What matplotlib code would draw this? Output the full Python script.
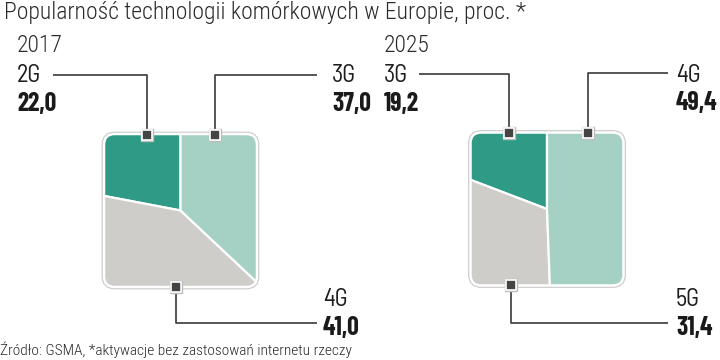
import numpy as np
import matplotlib
matplotlib.use('Agg')
import matplotlib.pyplot as plt
from matplotlib.patches import FancyBboxPatch

plt.rcParams['font.family'] = ['Roboto Condensed', 'Barlow Condensed', 'DejaVu Sans']
LABEL_FONT = ['Barlow Semi Condensed', 'Barlow Condensed', 'DejaVu Sans']
NUM_FONT = ['Barlow Condensed', 'DejaVu Sans']

# dane (kolejnosc: przeciwnie do ruchu wskazowek zegara od godziny 12)
years = ['2017', '2025']
techs_2017 = ['2G', '4G', '3G']
values_2017 = [22.0, 41.0, 37.0]
techs_2025 = ['3G', '5G', '4G']
values_2025 = [19.2, 31.4, 49.4]

title = 'Popularność technologii komórkowych w Europie, proc. *'
source = 'Źródło: GSMA, *aktywacje bez zastosowań internetu rzeczy'

colors = ['#2f9b86', '#cfcdca', '#a4d1c4']
W, H = 720, 360
fig = plt.figure(figsize=(7.2, 3.6), dpi=100)


def fmt(v):
    return ('%.1f' % v).replace('.', ',')


def square_pie(cx, cy, half, values):
    lim = 1.12
    size = 2 * half * lim
    ax = fig.add_axes([(cx - size / 2) / W, 1 - (cy + size / 2) / H, size / W, size / H])
    ax.axis('off')
    r = 0.14
    box = dict(boxstyle='round,pad=%f' % r)
    wedges, _ = ax.pie(values, colors=colors, startangle=90, counterclock=True, radius=2,
                       center=(0, 0), frame=False,
                       wedgeprops=dict(edgecolor='white', linewidth=1.6))
    ax.set_xlim(-lim, lim)
    ax.set_ylim(-lim, lim)
    ax.set_aspect('equal')
    shadow = FancyBboxPatch((-1 + r, -1 + r), 2 - 2 * r, 2 - 2 * r, fc='none', ec='#c9c9c9',
                            lw=3.4, zorder=0, **box)
    ax.add_patch(shadow)
    clip = FancyBboxPatch((-1 + r, -1 + r), 2 - 2 * r, 2 - 2 * r, fc='none', ec='none', **box)
    ax.add_patch(clip)
    for w in wedges:
        w.set_clip_on(True)
        w.set_clip_path(clip)
    border = FancyBboxPatch((-1 + r, -1 + r), 2 - 2 * r, 2 - 2 * r, fc='none', ec='white',
                            lw=1.8, zorder=5, **box)
    ax.add_patch(border)
    return ax


square_pie(180.5, 210.5, 76.5, values_2017)
square_pie(547, 209, 76.5, values_2025)

ov = fig.add_axes([0, 0, 1, 1], zorder=10)
ov.patch.set_alpha(0)
ov.set_xlim(0, W)
ov.set_ylim(H, 0)
ov.axis('off')

ov.text(4, 13, title, fontsize=17, fontweight=300, color='#2b2b2b', va='center', ha='left')
ov.text(17, 46, years[0], fontsize=17, fontweight=300, color='#2b2b2b', va='center', ha='left')
ov.text(384, 46, years[1], fontsize=17, fontweight=300, color='#2b2b2b', va='center', ha='left')
ov.text(0, 350, source, fontsize=11.1, fontweight=300, color='#2b2b2b', va='center', ha='left')

# etykiety: (nazwa, wartosc, x tekstu, y tekstu, linia do markera)
labels = [
    (techs_2017[0], values_2017[0], 17, 76, [(53, 75), (147, 75), (147, 135)]),
    (techs_2017[2], values_2017[2], 332, 76, [(317, 75), (215, 75), (215, 135)]),
    (techs_2017[1], values_2017[1], 323, 300, [(317, 323), (176, 323), (176, 287)]),
    (techs_2025[0], values_2025[0], 384, 76, [(419, 74), (509, 74), (509, 133)]),
    (techs_2025[2], values_2025[2], 676, 75, [(668, 73), (588, 73), (588, 133)]),
    (techs_2025[1], values_2025[1], 676, 300, [(668, 323), (511, 323), (511, 285)]),
]

for name, val, tx, ty, pts in labels:
    xs = [p[0] for p in pts]
    ys = [p[1] for p in pts]
    ov.plot(xs, ys, color='#3a3a3a', lw=1.2, solid_capstyle='butt')
    ov.plot(xs[-1], ys[-1], marker='s', ms=9, color='#bdbdbd', mec='#bdbdbd')
    ov.plot(xs[-1], ys[-1], marker='s', ms=7, color='#444444', mec='white', mew=1.2)
    ov.text(tx, ty, name, fontsize=17.5, family=LABEL_FONT, color='#1e1e1e',
            va='center', ha='left')
    ov.text(tx, ty + 28, fmt(val), fontsize=18.5, fontweight='bold', family=NUM_FONT,
            color='#1a1a1a', va='center', ha='left')

fig.savefig('out.png', dpi=100)
